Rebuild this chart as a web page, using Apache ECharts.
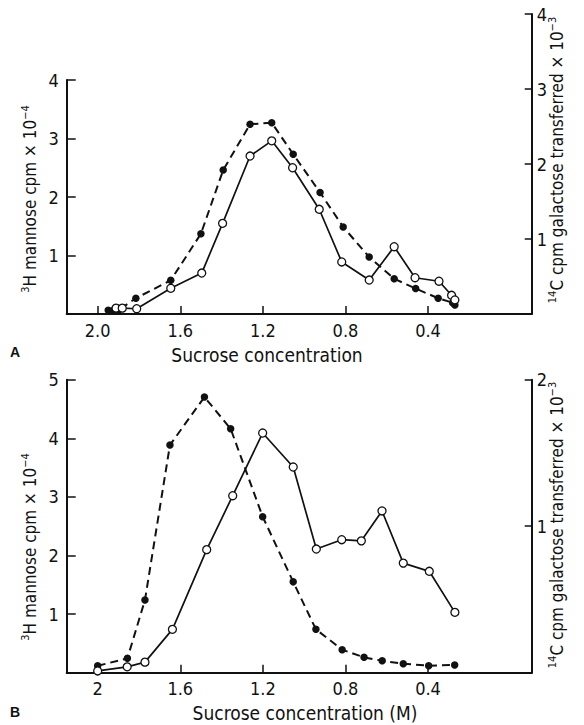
<!DOCTYPE html>
<html>
<head>
<meta charset="utf-8">
<script src="https://cdn.jsdelivr.net/npm/echarts@6/dist/echarts.min.js"></script>
<style>
html,body{margin:0;padding:0;background:#fff;}
#chart{width:584px;height:725px;}
</style>
</head>
<body>
<div id="chart"></div>
<script>
// ---- data ----
const xTickValues = [2.0, 1.6, 1.2, 0.8, 0.4];
const aMannoseX = [1.911, 1.881, 1.811, 1.646, 1.496, 1.395, 1.262, 1.157, 1.056, 0.927, 0.818, 0.685, 0.564, 0.463, 0.347, 0.286, 0.270];
const aMannoseY = [0.10, 0.10, 0.09, 0.44, 0.70, 1.55, 2.70, 2.96, 2.50, 1.79, 0.89, 0.58, 1.15, 0.62, 0.56, 0.32, 0.24];
const aGalX = [1.949, 1.924, 1.900, 1.815, 1.646, 1.500, 1.392, 1.262, 1.157, 1.053, 0.923, 0.811, 0.685, 0.564, 0.460, 0.351, 0.281, 0.270];
const aGalY = [0.05, 0.05, 0.05, 0.21, 0.45, 1.07, 1.92, 2.53, 2.55, 2.13, 1.62, 1.16, 0.76, 0.47, 0.34, 0.21, 0.15, 0.12];
const bMannoseX = [2.0, 1.857, 1.771, 1.638, 1.472, 1.346, 1.201, 1.053, 0.941, 0.818, 0.723, 0.623, 0.520, 0.394, 0.270];
const bMannoseY = [0.03, 0.10, 0.18, 0.74, 2.10, 3.02, 4.09, 3.51, 2.11, 2.27, 2.25, 2.76, 1.87, 1.73, 1.03];
const bGalX = [2.0, 1.856, 1.771, 1.650, 1.483, 1.356, 1.201, 1.053, 0.943, 0.816, 0.710, 0.622, 0.520, 0.397, 0.271];
const bGalY = [0.047, 0.098, 0.496, 1.554, 1.882, 1.665, 1.065, 0.620, 0.296, 0.157, 0.105, 0.081, 0.061, 0.048, 0.053];

const aLeftTicks = [0, 1, 2, 3, 4];
const aRightTicks = [0, 1, 2, 3, 4];
const bLeftTicks = [0, 1, 2, 3, 4, 5];
const bRightTicks = [0, 1, 2];

const labelA = 'A';
const labelB = 'B';
const xNameA = 'Sucrose concentration';
const xNameB = 'Sucrose concentration (M)';
const yNameLeft = '{s|3}H mannose cpm × 10{s|−4}';
const yNameRight = '{s|14}C cpm galactose transferred × 10{s|−3}';

// ---- styling ----
const FONT = "'Liberation Sans Narrow','DejaVu Sans Condensed','Liberation Sans',sans-serif";
const INK = '#111';
const zip = (xs, ys) => xs.map((x, i) => [x, ys[i]]);

const X_MIN = -0.102, X_MAX = 2.15;

function xAxisDef(grid, show, fmt) {
  return {
    type: 'value', gridIndex: grid, show: show, inverse: true,
    min: X_MIN, max: X_MAX,
    axisLine: { show: true, onZero: false, lineStyle: { color: INK, width: 2 } },
    axisTick: { show: true, inside: true, length: 8, customValues: xTickValues, lineStyle: { color: INK, width: 1.5 } },
    axisLabel: { show: true, customValues: xTickValues, formatter: fmt, color: INK, fontFamily: FONT, fontSize: 18, margin: 7 },
    splitLine: { show: false }
  };
}
function yAxisDef(grid, pos, ticks) {
  return {
    type: 'value', gridIndex: grid, position: pos,
    min: ticks[0], max: ticks[ticks.length - 1], interval: 1,
    axisLine: { show: true, onZero: false, lineStyle: { color: INK, width: 2 } },
    axisTick: { show: true, inside: true, length: pos === 'left' ? 9 : 7, lineStyle: { color: INK, width: 1.5 } },
    axisLabel: { show: true, color: INK, fontFamily: FONT, fontSize: 18, margin: pos === 'left' ? 8 : 5,
      formatter: v => (v === 0 ? '' : String(v)) },
    splitLine: { show: false }
  };
}
function openSeries(xi, yi, data) {
  return {
    type: 'line', xAxisIndex: xi, yAxisIndex: yi, data: data,
    symbol: 'circle', symbolSize: 8, showAllSymbol: true, z: 4,
    itemStyle: { color: '#fff', borderColor: INK, borderWidth: 1.3 },
    lineStyle: { color: INK, width: 1.7, type: 'solid' },
    emphasis: { disabled: true }, silent: true
  };
}
function filledSeries(xi, yi, data) {
  return {
    type: 'line', xAxisIndex: xi, yAxisIndex: yi, data: data,
    symbol: 'circle', symbolSize: 7.5, showAllSymbol: true, z: 3,
    itemStyle: { color: INK, borderColor: INK, borderWidth: 0 },
    lineStyle: { color: INK, width: 2, type: [8, 5] },
    emphasis: { disabled: true }, silent: true
  };
}

const richSup = { s: { fontSize: 11, fontFamily: FONT, fill: INK, verticalAlign: 'top', lineHeight: 11 } };
function yName(x, y, txt) {
  return {
    type: 'text', x: x, y: y, rotation: Math.PI / 2, silent: true,
    style: { text: txt, rich: richSup, fontFamily: FONT, fontSize: 17, fill: INK, align: 'center', verticalAlign: 'middle', lineHeight: 20 }
  };
}
function plainText(x, y, txt, size, weight, fam) {
  return {
    type: 'text', x: x, y: y, silent: true,
    style: { text: txt, fontFamily: fam || FONT, fontSize: size, fontWeight: weight || 'normal', fill: INK, align: 'center', verticalAlign: 'middle' }
  };
}

const chart = echarts.init(document.getElementById('chart'), null, { renderer: 'svg' });
chart.setOption({
  animation: false,
  backgroundColor: '#fff',
  grid: [
    { left: 66.7, right: 52.3, top: 80, height: 234, outerBoundsMode: 'none' },
    { left: 66.7, right: 52.3, top: 14, height: 300, outerBoundsMode: 'none' },
    { left: 66.7, right: 52.3, top: 379.7, height: 293, outerBoundsMode: 'none' }
  ],
  xAxis: [
    xAxisDef(0, true, v => v.toFixed(1)),
    xAxisDef(1, false, v => v.toFixed(1)),
    xAxisDef(2, true, v => (Math.abs(v - 2) < 1e-9 ? '2' : v.toFixed(1)))
  ],
  yAxis: [
    yAxisDef(0, 'left', aLeftTicks),
    yAxisDef(1, 'right', aRightTicks),
    yAxisDef(2, 'left', bLeftTicks),
    yAxisDef(2, 'right', bRightTicks)
  ],
  series: [
    filledSeries(1, 1, zip(aGalX, aGalY)),
    openSeries(0, 0, zip(aMannoseX, aMannoseY)),
    filledSeries(2, 3, zip(bGalX, bGalY)),
    openSeries(2, 2, zip(bMannoseX, bMannoseY))
  ],
  graphic: [
    yName(30, 199, yNameLeft),
    yName(557, 160, yNameRight),
    yName(30, 547, yNameLeft),
    yName(557, 525, yNameRight),
    plainText(267, 355, xNameA, 19),
    plainText(305, 713, xNameB, 19),
    plainText(15, 352, labelA, 14, 'bold', "'Liberation Sans',sans-serif"),
    plainText(15, 712, labelB, 14, 'bold', "'Liberation Sans',sans-serif")
  ]
});
</script>
</body>
</html>
